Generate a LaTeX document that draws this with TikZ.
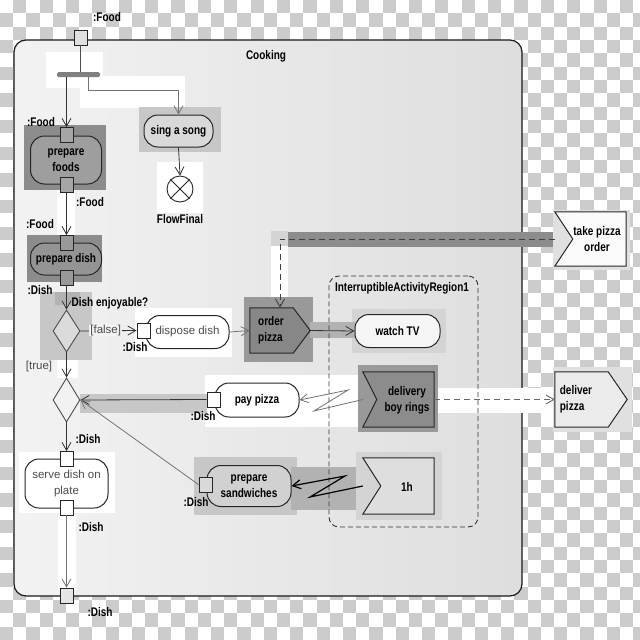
\documentclass[tikz,border=0pt]{standalone}
\usepackage{fontspec}
\setmainfont{Liberation Sans}
\newfontfamily\cfont[FakeStretch=0.8]{Liberation Sans}
\usetikzlibrary{arrows.meta,shapes.geometric}
\definecolor{chk}{gray}{0.80}
\definecolor{frL}{gray}{0.95}
\definecolor{frR}{gray}{0.87}
\definecolor{hlA}{gray}{0.78}
\definecolor{hlB}{gray}{0.70}
\definecolor{hlC}{gray}{0.83}
\definecolor{hlD}{gray}{0.55}
\definecolor{hlE}{gray}{0.60}
\definecolor{hlF}{gray}{0.88}
\definecolor{pfC}{gray}{0.62}
\definecolor{pdC}{gray}{0.58}
\definecolor{ordC}{gray}{0.53}
\definecolor{dlC}{gray}{0.55}
\definecolor{sngC}{gray}{0.85}
\definecolor{decC}{gray}{0.86}
\definecolor{wtC}{gray}{0.96}
\definecolor{psC}{gray}{0.82}
\definecolor{ohC}{gray}{0.87}
\definecolor{dvC}{gray}{0.92}
\definecolor{tkC}{gray}{0.98}
\definecolor{barC}{gray}{0.50}
\tikzset{
  btxt/.style={font=\cfont\bfseries\fontsize{12.5}{16}\selectfont, inner sep=0pt, align=center, text=black},
  rtxt/.style={font=\fontsize{11.5}{16}\selectfont, inner sep=0pt, align=center, text=black!70},
  pinbox/.style={draw=black!85, line width=0.8pt, fill=#1, minimum width=13pt, minimum height=15pt, inner sep=0pt},
  pinbox/.default=white,
  act/.style={draw=black!85, line width=1pt, rounded corners=14pt, inner sep=0pt, fill=#1},
  sigbox/.style={inner sep=0pt, draw=none, rectangle},
  sig/.style={draw=black!85, line width=1pt, fill=#1, line join=miter},
  decn/.style={diamond, draw=black!70, line width=0.9pt, fill=#1, inner sep=0pt, minimum width=27pt},
  arrowtip/.style={-{Straight Barb[length=8pt,width=9pt]}},
  flowline/.style={draw=black!80, line width=0.8pt, arrowtip},
  flowlg/.style={draw=black!55, line width=0.8pt, arrowtip},
  flowdk/.style={draw=black, line width=1.2pt, arrowtip},
  plainline/.style={draw=black!70, line width=0.8pt},
  dashline/.style={draw=black!75, line width=0.9pt, dash pattern=on 6pt off 4pt, arrowtip}
}
\begin{document}
\begin{tikzpicture}[x=1pt,y=-1pt]
\useasboundingbox (0,0) rectangle (640,640);
\fill[white] (0,0) rectangle (640,640);
\begin{scope}
\clip (0,0) rectangle (640,640);
\foreach \j in {0,2,...,46}{\foreach \i in {1,3,...,49}{\fill[chk] ({\i*13.19},{\j*13.333}) rectangle ++(13.19,13.333);}}
\foreach \j in {1,3,...,47}{\foreach \i in {0,2,...,48}{\fill[chk] ({\i*13.19},{\j*13.333}) rectangle ++(13.19,13.333);}}
\end{scope}
% frame
\node[draw=black!90, line width=1.2pt, rounded corners=12pt, minimum width=508pt, minimum height=556pt, inner sep=0pt, left color=frL, right color=frR] (cooking) at (268,318) {};
% highlight areas
\fill[white] (46,52) rectangle (103,88);
\fill[white] (80,76) rectangle (185,108);
\fill[white] (157,162) rectangle (203,213);
\fill[white] (57,190) rectangle (75,236);
\fill[white] (135,308) rectangle (232,357);
\fill[white] (57,352) rectangle (78,378);
\fill[white] (205,375) rectangle (365,427);
\fill[white] (434,388) rectangle (555,413);
\fill[white] (19,452) rectangle (115,513);
\fill[white] (58,515) rectangle (76,590);
\fill[white] (271,246) rectangle (288,297);
\fill[hlC] (271,231) rectangle (288,246);
\fill[hlA] (139,107) rectangle (221,152);
\fill[hlD] (24,125) rectangle (106,190);
\fill[hlD] (27,235) rectangle (102,282);
\fill[hlA] (40,292) rectangle (92,360);
\fill[hlB] (55,292) rectangle (80,305);
\fill[hlE] (244,297) rectangle (313,362);
\fill[hlD] (288,232) rectangle (560,247);
\fill[hlC] (352,309) rectangle (446,353);
\fill[hlB] (310,322) rectangle (355,338);
\fill[hlE] (358,365) rectangle (438,432);
\fill[hlA] (80,394) rectangle (207,413);
\fill[hlA] (194,457) rectangle (297,515);
\fill[hlB] (291,467) rectangle (367,510);
\fill[hlC] (356,452) rectangle (442,520);
\fill[hlF] (553,210) rectangle (630,270);
\fill[hlF] (553,367) rectangle (632,432);
% region
\node[draw=black!80, dash pattern=on 5pt off 3pt, line width=0.9pt, rounded corners=10pt, minimum width=149pt, minimum height=251pt, inner sep=0pt] (region) at (403.5,401.5) {};
\node[btxt] (regl) at (402,288) {InterruptibleActivityRegion1};
\node[btxt] (cook) at (266,56) {Cooking};
% nodes
\node[pinbox=black!12] (toppin) at (80.5,37.5) {};
\node[btxt] (l1) at (107,17) {:Food};
\node[draw=none, fill=barC, rounded corners=1.5pt, minimum width=43pt, minimum height=5pt, inner sep=0pt] (bar) at (78.5,74.5) {};
\node[act=sngC, btxt, minimum width=69pt, minimum height=32pt] (sing) at (178.5,131) {sing a song};
\node[draw=black!85, line width=0.9pt, circle, minimum size=26pt, inner sep=0pt, fill=white] (ff) at (180,189) {};
\draw[black!85, line width=0.9pt] (ff.north east) -- (ff.south west) (ff.north west) -- (ff.south east);
\node[btxt] (fflab) at (180,219) {FlowFinal};
\node[act=pfC, btxt, minimum width=71pt, minimum height=48pt] (pf) at (66,160) {prepare\\foods};
\node[pinbox=black!35] (pfin) at (66.5,135) {};
\node[pinbox=black!35] (pfout) at (66.5,184.5) {};
\node[btxt] (l2) at (41,122) {:Food};
\node[btxt] (l3) at (90,202) {:Food};
\node[act=pdC, btxt, minimum width=71pt, minimum height=32pt] (pd) at (66,259) {prepare dish};
\node[pinbox=black!40] (pdin) at (66.5,243) {};
\node[pinbox=black!40] (pdout) at (66.5,277.5) {};
\node[btxt] (l4) at (40,224) {:Food};
\node[btxt] (l5) at (40,290) {:Dish};
\node[decn=decC, minimum height=42pt] (d1) at (66.5,331) {};
\node[btxt] (l6) at (110,303) {Dish enjoyable?};
\node[decn=frL, minimum height=44pt] (d2) at (66.5,400) {};
\node[rtxt] (tl) at (39,367) {[true]};
\node[act=white, rtxt, minimum width=83pt, minimum height=33pt] (disp) at (187.5,332) {dispose dish};
\node[pinbox=white] (disppin) at (143.5,330.5) {};
\node[btxt] (l7) at (135,347) {:Dish};
% order pizza
\node[sigbox, minimum width=60pt, minimum height=45pt] (order) at (280,330.5) {};
\draw[sig=ordC] (order.north west) -- ([xshift=-17pt]order.north east) -- (order.east) -- ([xshift=-17pt]order.south east) -- (order.south west) -- cycle;
\node[btxt, align=left] (ordert) at (271,330.5) {order\\pizza};
% take pizza order
\node[sigbox, minimum width=71pt, minimum height=54pt] (take) at (590.5,239) {};
\draw[sig=tkC] (take.north west) -- (take.north east) -- (take.south east) -- (take.south west) -- ([xshift=18pt]take.west) -- cycle;
\node[btxt] (taket) at (597,239) {take pizza\\order};
\node[act=wtC, btxt, minimum width=85pt, minimum height=33pt] (wtv) at (397.5,331) {watch TV};
% delivery boy rings
\node[sigbox, minimum width=71pt, minimum height=55pt] (deliv) at (398.5,399.5) {};
\draw[sig=dlC] (deliv.north west) -- (deliv.north east) -- (deliv.south east) -- (deliv.south west) -- ([xshift=14pt]deliv.west) -- cycle;
\node[btxt] (delivt) at (407,400) {delivery\\boy rings};
% 1h
\node[sigbox, minimum width=71pt, minimum height=56pt] (onehour) at (398.5,486) {};
\draw[sig=ohC] (onehour.north west) -- (onehour.north east) -- (onehour.south east) -- (onehour.south west) -- ([xshift=18pt]onehour.west) -- cycle;
\node[btxt] (onehourt) at (407,487) {1h};
% deliver pizza
\node[sigbox, minimum width=72pt, minimum height=55pt] (deliver) at (591,399.5) {};
\draw[sig=dvC] (deliver.north west) -- ([xshift=-19pt]deliver.north east) -- (deliver.east) -- ([xshift=-19pt]deliver.south east) -- (deliver.south west) -- cycle;
\node[btxt, align=left] (delivert) at (576,399.5) {deliver\\pizza};
% pay pizza
\node[act=white, btxt, minimum width=84pt, minimum height=34pt] (pay) at (257,400) {pay pizza};
\node[pinbox=white] (paypin) at (213.5,399.5) {};
\node[btxt] (l8) at (203,416) {:Dish};
% prepare sandwiches
\node[act=psC, btxt, minimum width=84pt, minimum height=41pt] (ps) at (249,486) {prepare\\sandwiches};
\node[pinbox=black!15] (pspin) at (206,485) {};
\node[btxt] (l10) at (196,502) {:Dish};
% serve
\node[act=white, rtxt, minimum width=83pt, minimum height=49pt] (serve) at (66.5,483.5) {serve dish on\\plate};
\node[pinbox=white] (svin) at (66.5,459) {};
\node[pinbox=white] (svout) at (66.5,507.5) {};
\node[btxt] (l9) at (88,439) {:Dish};
\node[btxt] (l11) at (91,527) {:Dish};
\node[pinbox=black!10] (botpin) at (66.5,595.5) {};
\node[btxt] (l12) at (100,612) {:Dish};
% flows
\draw[plainline] (toppin.south) -- (toppin.south |- bar.north);
\draw[flowline] (pfin.north |- bar.south) -- (pfin.north);
\draw[flowlg] ([xshift=9.5pt]bar.south) -- ++(0,13) -| (sing.north);
\draw[flowline] (sing.south) -- (ff.north);
\draw[flowline] (pfout.south) -- (pdin.north);
\draw[flowline] (pdout.south) -- (d1.north);
\draw[flowline] (d1.east) -- node[rtxt, fill=frL, inner xsep=1pt, pos=0.45] (fl) {[false]} (disppin.west);
\draw[flowline] (d1.south) -- (d2.north);
\draw[flowlg] (disp.east) -- (order.west);
\draw[flowline] (order.east) -- (wtv.west);
\draw[dashline] (take.west) -| (order.north);
\draw[flowlg] (deliv.west) -- (314,411) -- (348,390) -- (pay.east);
\draw[flowline] (paypin.west) -- (d2.east);
\draw[flowlg] (pspin.west) -- (d2.east);
\draw[flowdk] (onehour.west) -- (310,497) -- (345,476) -- (ps.east);
\draw[dashline, draw=black!60] (deliv.east) -- (deliver.west);
\draw[flowline] (d2.south) -- (svin.north);
\draw[flowlg] (svout.south) -- (botpin.north);
\end{tikzpicture}
\end{document}
